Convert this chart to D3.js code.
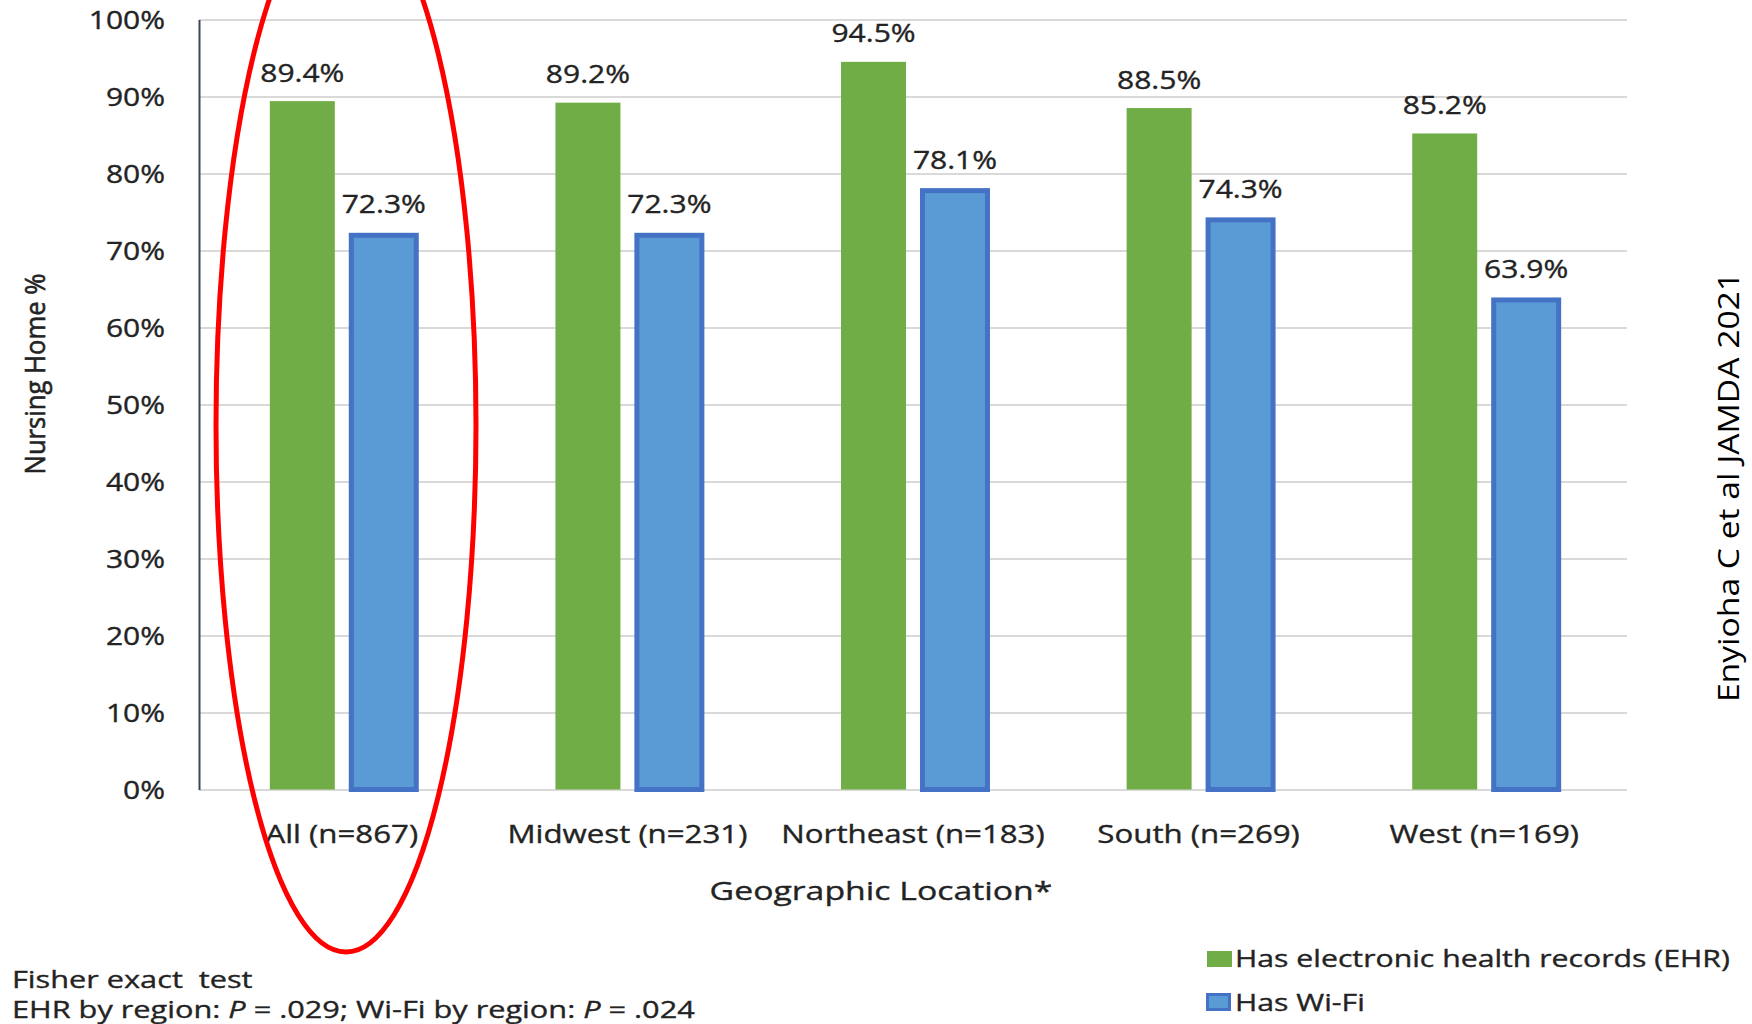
<!DOCTYPE html>
<html>
<head>
<meta charset="utf-8">
<script src="https://cdn.jsdelivr.net/npm/d3@7"></script>
<style>
  html, body { margin: 0; padding: 0; background: #fff; }
  svg { display: block; }
  text { font-family: "Open Sans", "Noto Sans", sans-serif; fill: #232323; stroke: #232323; stroke-width: 0.35px; white-space: pre; }
</style>
</head>
<body>
<svg id="chart" width="1752" height="1024"></svg>
<script>
// ---- Data ----
const categories = ["All (n=867)", "Midwest (n=231)", "Northeast (n=183)", "South (n=269)", "West (n=169)"];
const seriesNames = ["Has electronic health records (EHR)", "Has Wi-Fi"];
const ehrValues = [89.4, 89.2, 94.5, 88.5, 85.2];
const wifiValues = [72.3, 72.3, 78.1, 74.3, 63.9];
const yTicks = [0, 10, 20, 30, 40, 50, 60, 70, 80, 90, 100];
const yTitle = "Nursing Home %";
const xTitle = "Geographic Location*";
const credit = "Enyioha C et al JAMDA 2021";
const footLine1 = "Fisher exact  test";
const footLine2 = [["EHR by region: ", false], ["P", true], [" = .029; Wi-Fi by region: ", false], ["P", true], [" = .024", false]];

// ---- Styles ----
const colors = { fill: ["#70AD47", "#5B9BD5"], stroke: [null, "#4472C4"] };
const SX = 1.2; // horizontal stretch of the original figure's text

const svg = d3.select("#chart");
const plotLeft = 199, plotRight = 1627, plotTop = 19.5, plotBottom = 789.5;

const x0 = d3.scaleBand().domain(categories).range([plotLeft, plotRight]).paddingInner(0.496).paddingOuter(0.248);
const x1 = d3.scaleBand().domain([0, 1]).range([0, x0.bandwidth()]).paddingInner(0.177);
const y = d3.scaleLinear().domain([0, 100]).range([plotBottom, plotTop]);

// Gridlines
const grid = svg.append("g").attr("transform", `translate(${plotLeft},0)`)
  .call(d3.axisLeft(y).tickValues(yTicks).tickSize(-(plotRight - plotLeft)).tickFormat(""));
grid.select(".domain").remove();
grid.selectAll("line").attr("stroke", "#d9d9d9").attr("stroke-width", 2);

// Bars
const rows = categories.map((c, i) => ({ cat: c, vals: [ehrValues[i], wifiValues[i]] }));
const groups = svg.append("g").selectAll("g").data(rows).join("g")
  .attr("transform", d => `translate(${x0(d.cat)},0)`);
groups.selectAll("rect").data(d => d.vals.map((v, k) => ({ v, k }))).join("rect")
  .attr("x", d => x1(d.k) + (d.k === 1 ? 2.5 : 0))
  .attr("y", d => y(d.v) + (d.k === 1 ? 2.5 : 0))
  .attr("width", d => x1.bandwidth())
  .attr("height", d => plotBottom - y(d.v) - (d.k === 1 ? 2.5 : 0))
  .attr("fill", d => colors.fill[d.k])
  .attr("stroke", d => colors.stroke[d.k] || "none")
  .attr("stroke-width", d => d.k === 1 ? 5 : 0);

// Value labels
groups.selectAll("text.val").data(d => d.vals.map((v, k) => ({ v, k }))).join("text")
  .attr("class", "val")
  .attr("text-anchor", "middle")
  .attr("font-size", 25)
  .attr("transform", d => `translate(${x1(d.k) + x1.bandwidth() / 2 + (d.k === 1 ? 2.5 : 0)},${y(d.v) - 19.5}) scale(${SX},1)`)
  .text(d => d.v.toFixed(1) + "%");

// Y axis (line + labels)
const yAxis = svg.append("g").attr("transform", `translate(${plotLeft},0)`)
  .call(d3.axisLeft(y).tickValues(yTicks).tickSize(0).tickFormat(d => d + "%"));
yAxis.select(".domain").attr("stroke", "#3b4656").attr("stroke-width", 2);
yAxis.selectAll("text")
  .attr("x", 0).attr("dy", "0.36em")
  .attr("font-size", 25).attr("fill", "#232323")
  .attr("font-family", "'Open Sans', sans-serif")
  .attr("transform", `translate(-34,0) scale(${SX},1)`);

// X axis category labels
const xAxis = svg.append("g").attr("transform", `translate(0,${plotBottom})`)
  .call(d3.axisBottom(x0).tickSize(0));
xAxis.select(".domain").remove();
xAxis.selectAll("text")
  .attr("y", 0).attr("dy", 0)
  .attr("font-size", 25).attr("fill", "#232323")
  .attr("font-family", "'Open Sans', sans-serif")
  .attr("transform", `translate(0,${843 - plotBottom}) scale(1.25,1)`);

// Axis titles
svg.append("text").attr("text-anchor", "middle").attr("font-size", 26)
  .attr("transform", `translate(881,900) scale(1.3,1)`).text(xTitle);
svg.append("text").attr("text-anchor", "middle").attr("font-size", 27)
  .style("stroke-width", "0.6px")
  .attr("transform", `translate(45,374) rotate(-90) scale(0.95,1)`).text(yTitle);

// Credit
svg.append("text").attr("text-anchor", "middle").attr("font-size", 29)
  .style("fill", "#000").style("stroke", "none")
  .attr("transform", `translate(1739,487) rotate(-90) scale(1.16,1)`).text(credit);

// Legend
const legend = svg.append("g").selectAll("g").data(seriesNames).join("g")
  .attr("transform", (d, i) => `translate(1206,${[967, 1011][i]})`);
legend.append("rect")
  .attr("x", (d, i) => i === 1 ? 1.5 : 1)
  .attr("y", (d, i) => i === 1 ? -16.5 : -16)
  .attr("width", (d, i) => i === 1 ? 22 : 25)
  .attr("height", (d, i) => i === 1 ? 15 : 16)
  .attr("fill", (d, i) => colors.fill[i])
  .attr("stroke", (d, i) => colors.stroke[i] || "none")
  .attr("stroke-width", (d, i) => i === 1 ? 3 : 0);
legend.append("text").attr("font-size", 24)
  .attr("transform", `translate(29,0) scale(1.26,1)`).text(d => d);

// Footnote
svg.append("text").attr("font-size", 24).attr("transform", `translate(12,988) scale(1.28,1)`).text(footLine1);
const f2 = svg.append("text").attr("font-size", 24).attr("transform", `translate(12,1018) scale(1.28,1)`);
f2.selectAll("tspan").data(footLine2).join("tspan")
  .style("font-style", d => d[1] ? "italic" : "normal").text(d => d[0]);

// Red ellipse annotation
svg.append("ellipse").attr("cx", 346).attr("cy", 425).attr("rx", 130).attr("ry", 527)
  .attr("fill", "none").attr("stroke", "#FF0000").attr("stroke-width", 5);
</script>
</body>
</html>
